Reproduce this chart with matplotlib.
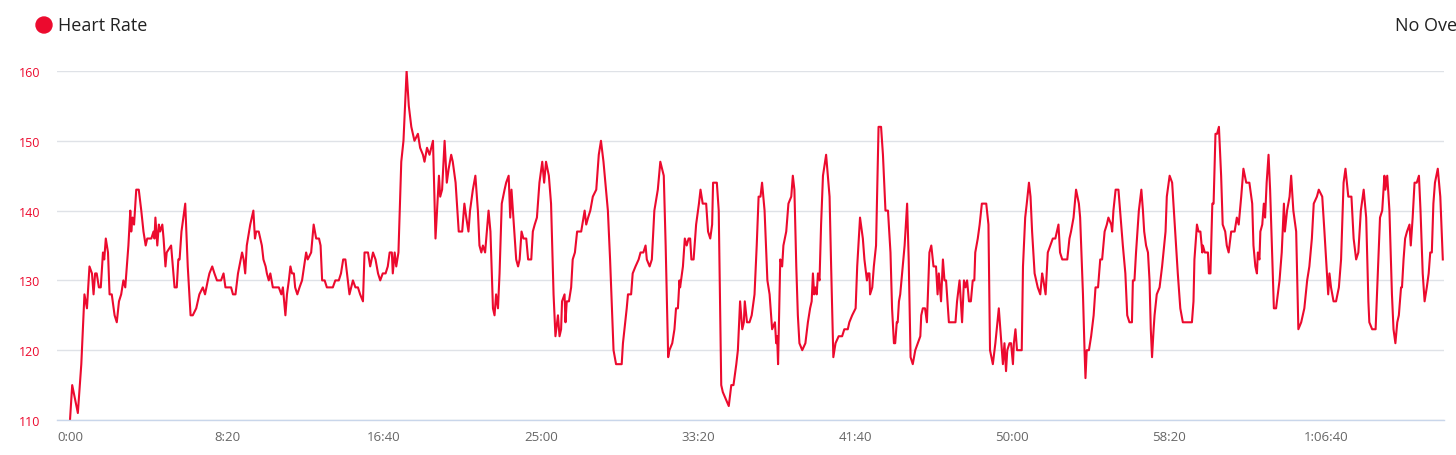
import matplotlib
matplotlib.use("Agg")
import matplotlib.pyplot as plt
from matplotlib.patches import Circle
from matplotlib.ticker import FuncFormatter, MultipleLocator

plt.rcParams['font.family'] = ['Open Sans', 'DejaVu Sans']

# elapsed time in seconds and heart rate in bpm
seconds = [
    0, 7, 25, 36, 46, 54, 62, 70, 75, 80,
    85, 92, 98, 105, 109, 114, 121, 126, 133, 142,
    149, 156, 163, 170, 176, 186, 192, 195, 199, 204,
    211, 219, 227, 234, 241, 246, 259, 266, 269, 272,
    278, 283, 287, 294, 298, 304, 308, 322, 333, 340,
    345, 349, 355, 367, 375, 384, 391, 402, 412, 423,
    430, 439, 444, 453, 460, 468, 481, 489, 495, 513,
    519, 527, 535, 548, 553, 558, 563, 574, 584, 589,
    593, 601, 611, 616, 623, 627, 633, 638, 646, 651,
    665, 673, 678, 686, 691, 697, 702, 707, 713, 717,
    724, 731,
    739, 752, 757, 768, 776, 784, 793, 798, 803, 811,
    818, 837, 845, 856, 863, 870, 877, 885, 890, 901,
    909, 917, 924, 933, 938, 949, 956, 965, 973, 981,
    988, 996, 1005, 1012, 1018, 1025, 1028, 1034, 1039, 1046,
    1055, 1062, 1072, 1079, 1087, 1097, 1108, 1115, 1124, 1129,
    1137, 1145, 1156, 1164, 1175, 1179, 1185, 1193, 1200, 1206,
    1214, 1219, 1228, 1238, 1249, 1256, 1262, 1269, 1274, 1283,
    1291, 1299, 1304, 1310, 1315, 1322, 1333, 1339, 1347, 1352,
    1357, 1363, 1368, 1375, 1384, 1389, 1397, 1402, 1406, 1412,
    1421, 1427, 1432, 1438, 1444, 1453, 1459, 1469, 1474, 1480,
    1487,
    1495, 1504, 1510, 1516, 1525, 1532, 1540, 1546, 1554, 1559,
    1564, 1567, 1575, 1578, 1582, 1589, 1596, 1601, 1608, 1615,
    1628, 1639, 1644, 1650, 1657, 1665, 1676, 1684, 1691, 1699,
    1713, 1720, 1731, 1739, 1757, 1761, 1773, 1777, 1787, 1792,
    1801, 1811, 1817, 1826, 1833, 1837, 1846, 1853, 1861, 1872,
    1880, 1891, 1897, 1905, 1909, 1918, 1925, 1930, 1936, 1941,
    1943, 1952, 1958, 1964, 1970, 1975, 1979, 1986, 1994, 2003,
    2008, 2015, 2026, 2032, 2039, 2045, 2048, 2060, 2066, 2074,
    2079, 2098, 2106, 2113, 2122, 2127, 2134, 2141, 2146, 2149,
    2156, 2164, 2171, 2180, 2187, 2193, 2199, 2204, 2212, 2221,
    2228, 2236, 2245, 2249, 2252, 2255, 2262,
    2268, 2272, 2281, 2288, 2297, 2302, 2307, 2313, 2318, 2323,
    2332, 2342, 2350, 2357, 2362, 2366, 2370, 2374, 2378, 2382,
    2387, 2392, 2398, 2408, 2419, 2424, 2431, 2438, 2448, 2459,
    2466, 2477, 2482, 2491, 2502, 2507, 2516, 2525, 2530, 2538,
    2541, 2546, 2548, 2555, 2560, 2567, 2575, 2583, 2589, 2597,
    2605, 2613, 2618, 2624, 2628, 2633, 2636, 2640, 2644, 2650,
    2658, 2666, 2671, 2677, 2684, 2692, 2700, 2708, 2711, 2716,
    2723, 2729, 2737, 2743, 2750, 2758, 2763, 2767, 2774, 2780,
    2785, 2790, 2799, 2820, 2825, 2833, 2841, 2847, 2852, 2857,
    2863, 2869, 2875, 2880, 2883, 2891, 2897, 2904, 2918, 2925,
    2930, 2939, 2947, 2958, 2966, 2971, 2976, 2981, 2985, 2992,
    2997, 3003, 3006, 3011, 3016, 3031,
    3035, 3042, 3047, 3054, 3059, 3064, 3072, 3077, 3082, 3090,
    3096, 3100, 3107, 3114, 3122, 3130, 3138, 3143, 3148, 3153,
    3160, 3167, 3176, 3183, 3188, 3196, 3204, 3213, 3217, 3226,
    3231, 3234, 3238, 3245, 3252, 3260, 3266, 3274, 3281, 3287,
    3295, 3302, 3307, 3316, 3319, 3323, 3330, 3339, 3346, 3353,
    3361, 3367, 3374, 3382, 3385, 3390, 3395, 3404, 3412, 3417,
    3421, 3427, 3433, 3438, 3442, 3446, 3451, 3454, 3461, 3470,
    3478, 3489, 3493, 3502, 3510, 3521, 3528, 3536, 3544, 3555,
    3573, 3578, 3581, 3589, 3594, 3600, 3606, 3608, 3614, 3624,
    3627, 3632, 3638, 3642, 3648, 3653, 3659, 3666, 3671, 3679,
    3684, 3690,
    3698, 3709, 3716, 3722, 3730, 3737, 3746, 3756, 3765, 3769,
    3775, 3780, 3783, 3788, 3791, 3797, 3802, 3806, 3811, 3817,
    3822, 3827, 3834, 3841, 3852, 3859, 3866, 3869, 3876, 3884,
    3889, 3896, 3905, 3912, 3921, 3931, 3940, 3947, 3955, 3961,
    3971, 3977, 3988, 3995, 4007, 4011, 4016, 4024, 4032, 4041,
    4048, 4056, 4062, 4071, 4081, 4088, 4096, 4103, 4111, 4120,
    4128, 4135, 4138, 4147, 4158, 4165, 4172, 4179, 4186, 4189,
    4195, 4202, 4210, 4215, 4221, 4227, 4232, 4239, 4242, 4247,
    4252, 4258, 4266, 4270, 4276, 4282, 4289, 4296, 4301, 4308,
    4314, 4321, 4327, 4332, 4337, 4342, 4347, 4356, 4364, 4372,
]

heart_rate = [
    110, 115, 111, 118, 128, 126, 132, 131, 128, 131,
    131, 129, 129, 134, 133, 136, 134, 128, 128, 125,
    124, 127, 128, 130, 129, 135, 140, 137, 139, 138,
    143, 143, 140, 137, 135, 136, 136, 137, 136, 139,
    135, 138, 137, 138, 136, 132, 134, 135, 129, 129,
    133, 133, 137, 141, 132, 125, 125, 126, 128, 129,
    128, 130, 131, 132, 131, 130, 130, 131, 129, 129,
    128, 128, 131, 134, 133, 131, 135, 138, 140, 136,
    137, 137, 135, 133, 132, 131, 130, 131, 129, 129,
    129, 128, 129, 125, 128, 130, 132, 131, 131, 129,
    128, 129,
    130, 134, 133, 134, 138, 136, 136, 135, 130, 130,
    129, 129, 130, 130, 131, 133, 133, 130, 128, 130,
    129, 129, 128, 127, 134, 134, 132, 134, 133, 131,
    130, 131, 131, 132, 134, 134, 131, 134, 132, 134,
    147, 150, 160, 155, 152, 150, 151, 149, 148, 147,
    149, 148, 150, 136, 145, 142, 143, 150, 144, 146,
    148, 147, 144, 137, 137, 141, 139, 137, 140, 143,
    145, 140, 135, 134, 135, 134, 140, 137, 126, 125,
    128, 126, 131, 141, 143, 144, 145, 139, 143, 139,
    133, 132, 133, 137, 136, 136, 133, 133, 137, 138,
    139,
    144, 147, 144, 147, 145, 141, 128, 122, 125, 122,
    123, 127, 128, 124, 127, 127, 129, 133, 134, 137,
    137, 140, 138, 139, 140, 142, 143, 148, 150, 147,
    140, 133, 120, 118, 118, 121, 126, 128, 128, 131,
    132, 133, 134, 134, 135, 133, 132, 133, 140, 143,
    147, 145, 135, 119, 120, 121, 123, 126, 126, 130,
    129, 132, 136, 135, 136, 136, 133, 133, 138, 141,
    143, 141, 141, 137, 136, 138, 144, 144, 140, 115,
    114, 112, 115, 115, 118, 120, 127, 123, 124, 127,
    124, 124, 125, 128, 135, 142, 142, 144, 140, 130,
    128, 123, 124, 121, 122, 118, 133,
    132, 135, 137, 141, 142, 145, 143, 132, 125, 121,
    120, 121, 124, 126, 127, 131, 128, 129, 128, 131,
    130, 138, 145, 148, 142, 132, 119, 121, 122, 122,
    123, 123, 124, 125, 126, 132, 139, 136, 133, 130,
    131, 131, 128, 129, 132, 135, 152, 152, 148, 140,
    140, 134, 126, 121, 121, 124, 124, 127, 128, 131,
    135, 141, 133, 119, 118, 120, 121, 122, 125, 126,
    126, 124, 134, 135, 132, 132, 128, 131, 127, 133,
    130, 130, 124, 124, 127, 130, 124, 130, 129, 130,
    127, 127, 130, 130, 134, 136, 138, 141, 141, 138,
    120, 118, 121, 126, 121, 118, 121, 117, 120, 121,
    121, 118, 121, 123, 120, 120,
    132, 139, 141, 144, 142, 137, 131, 130, 129, 128,
    131, 130, 128, 134, 135, 136, 136, 137, 138, 134,
    133, 133, 133, 136, 137, 139, 143, 141, 139, 128,
    120, 116, 120, 120, 122, 125, 129, 129, 133, 133,
    137, 138, 139, 138, 137, 140, 143, 143, 139, 135,
    131, 125, 124, 124, 130, 130, 134, 140, 143, 140,
    137, 135, 134, 130, 123, 119, 123, 125, 128, 129,
    132, 137, 142, 145, 144, 136, 131, 126, 124, 124,
    124, 127, 133, 138, 137, 137, 134, 135, 134, 134,
    131, 131, 141, 141, 151, 151, 152, 145, 138, 137,
    135, 134,
    137, 137, 139, 138, 142, 146, 144, 144, 141, 135,
    132, 131, 134, 133, 137, 138, 141, 139, 144, 148,
    143, 136, 126, 126, 130, 134, 141, 137, 140, 142,
    145, 140, 137, 123, 124, 126, 130, 132, 136, 141,
    142, 143, 142, 137, 128, 131, 129, 127, 127, 129,
    133, 144, 146, 142, 142, 136, 133, 134, 140, 143,
    139, 127, 124, 123, 123, 131, 139, 140, 145, 143,
    145, 140, 128, 123, 121, 124, 125, 129, 129, 133,
    136, 137, 138, 135, 139, 144, 144, 145, 140, 131,
    127, 129, 131, 134, 134, 141, 144, 146, 142, 133,
]

y_ticks = [110, 120, 130, 140, 150, 160]
line_color = '#ec0a2e'


def fmt_time(s, pos):
    s = int(round(s))
    h, rem = divmod(s, 3600)
    m, sec = divmod(rem, 60)
    if h:
        return f"{h}:{m:02d}:{sec:02d}"
    return f"{m}:{sec:02d}"


fig = plt.figure(figsize=(14.56, 4.56), dpi=100)
ax = fig.add_axes([57 / 1456, 35 / 456, (1444 - 57) / 1456, (421 - 72) / 456])

ax.plot(seconds, heart_rate, color=line_color, lw=1.5, solid_joinstyle='round')

ax.set_xlim(-41.4, 4375.8)
ax.set_ylim(110, 160)
ax.set_yticks(y_ticks)
ax.xaxis.set_major_locator(MultipleLocator(500))
ax.xaxis.set_major_formatter(FuncFormatter(fmt_time))

ax.grid(axis='y', color='#dfe2e7', lw=1.0)
ax.set_axisbelow(True)
for side in ['top', 'right', 'left']:
    ax.spines[side].set_visible(False)
ax.spines['bottom'].set_color('#c9d6ea')
ax.spines['bottom'].set_linewidth(1.0)

ax.tick_params(axis='y', length=0, pad=12, labelsize=9, labelcolor=line_color)
ax.tick_params(axis='x', length=0, pad=7, labelsize=9.5, labelcolor='#666666')

# legend-like header
fig.add_artist(Circle((44, 430), 8, transform=None, color=line_color))
fig.text(58 / 1456, 1 - 26 / 456, 'Heart Rate', fontsize=13, color='#222222', va='center', ha='left')
# the overlay selector is cut off at the right edge in the original
fig.text(1395 / 1456, 1 - 26 / 456, 'No Ove', fontsize=13, color='#222222', va='center', ha='left')

fig.savefig('out.png', dpi=100)
